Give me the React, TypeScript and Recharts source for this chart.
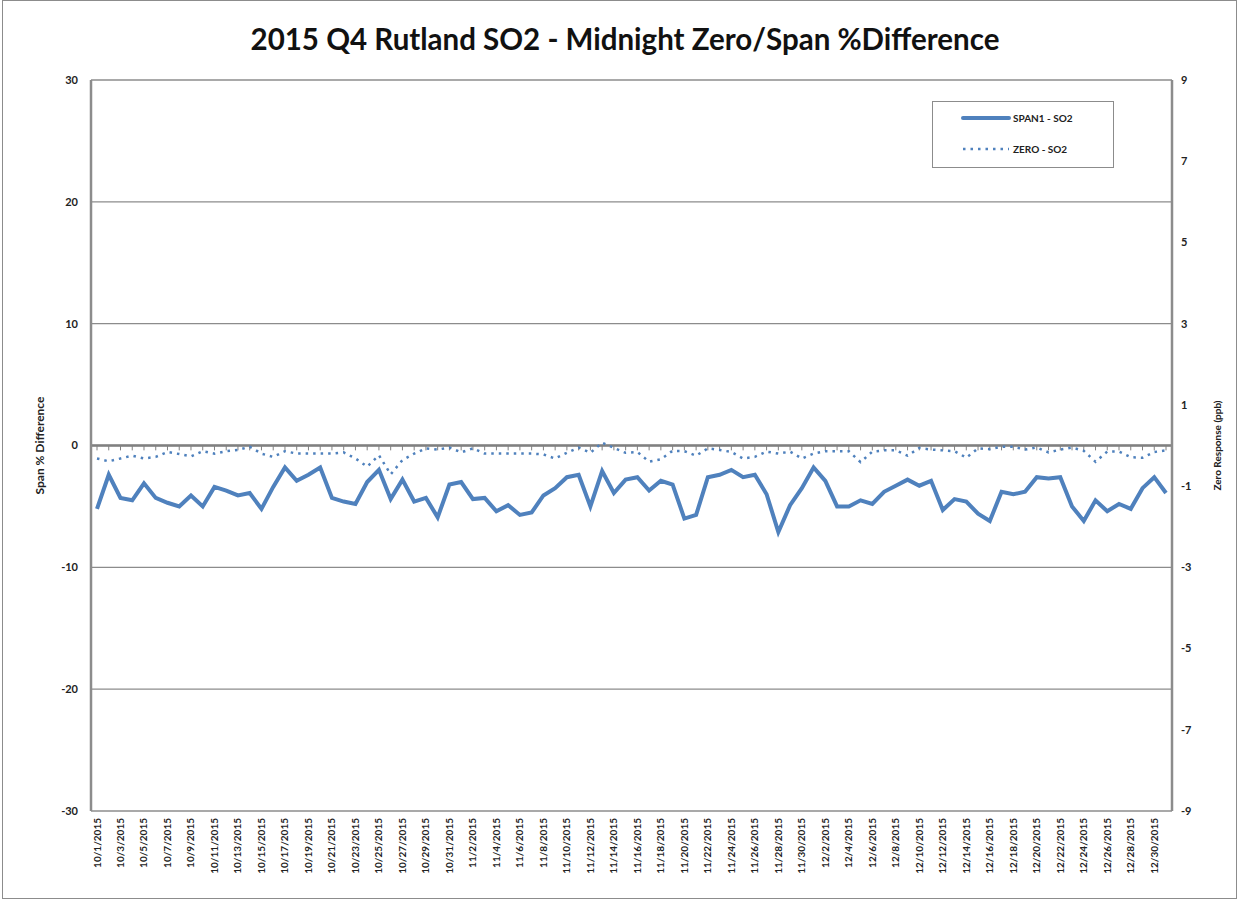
import {
  CartesianGrid,
  Line,
  LineChart,
  ReferenceLine,
  XAxis,
  YAxis,
} from 'recharts';

const days = [
  '10/1/2015', '10/2/2015', '10/3/2015', '10/4/2015', '10/5/2015', '10/6/2015', '10/7/2015', '10/8/2015',
  '10/9/2015', '10/10/2015', '10/11/2015', '10/12/2015', '10/13/2015', '10/14/2015', '10/15/2015', '10/16/2015',
  '10/17/2015', '10/18/2015', '10/19/2015', '10/20/2015', '10/21/2015', '10/22/2015', '10/23/2015', '10/24/2015',
  '10/25/2015', '10/26/2015', '10/27/2015', '10/28/2015', '10/29/2015', '10/30/2015', '10/31/2015',
  '11/1/2015', '11/2/2015', '11/3/2015', '11/4/2015', '11/5/2015', '11/6/2015', '11/7/2015', '11/8/2015',
  '11/9/2015', '11/10/2015', '11/11/2015', '11/12/2015', '11/13/2015', '11/14/2015', '11/15/2015', '11/16/2015',
  '11/17/2015', '11/18/2015', '11/19/2015', '11/20/2015', '11/21/2015', '11/22/2015', '11/23/2015', '11/24/2015',
  '11/25/2015', '11/26/2015', '11/27/2015', '11/28/2015', '11/29/2015', '11/30/2015',
  '12/1/2015', '12/2/2015', '12/3/2015', '12/4/2015', '12/5/2015', '12/6/2015', '12/7/2015', '12/8/2015',
  '12/9/2015', '12/10/2015', '12/11/2015', '12/12/2015', '12/13/2015', '12/14/2015', '12/15/2015', '12/16/2015',
  '12/17/2015', '12/18/2015', '12/19/2015', '12/20/2015', '12/21/2015', '12/22/2015', '12/23/2015', '12/24/2015',
  '12/25/2015', '12/26/2015', '12/27/2015', '12/28/2015', '12/29/2015', '12/30/2015', '12/31/2015',
];

// SPAN1 - SO2, % difference (left axis)
const span1 = [
  -5.2, -2.4, -4.3, -4.5, -3.1, -4.3, -4.7, -5.0, -4.1, -5.0,
  -3.4, -3.7, -4.1, -3.9, -5.2, -3.4, -1.8, -2.9, -2.4, -1.8,
  -4.3, -4.6, -4.8, -3.0, -2.0, -4.4, -2.8, -4.6, -4.3, -5.9,
  -3.2, -3.0, -4.4, -4.3, -5.4, -4.9, -5.7, -5.5, -4.1, -3.5,
  -2.6, -2.4, -5.0, -2.1, -3.9, -2.8, -2.6, -3.7, -2.9, -3.2,
  -6.0, -5.7, -2.6, -2.4, -2.0, -2.6, -2.4, -4.0, -7.1, -4.9,
  -3.5, -1.8, -2.9, -5.0, -5.0, -4.5, -4.8, -3.8, -3.3, -2.8,
  -3.3, -2.9, -5.3, -4.4, -4.6, -5.6, -6.2, -3.8, -4.0, -3.8,
  -2.6, -2.7, -2.6, -5.0, -6.2, -4.5, -5.4, -4.8, -5.2, -3.5,
  -2.6, -3.9,
];

// ZERO - SO2, ppb (right axis)
const zeroSo2 = [
  -0.32, -0.39, -0.32, -0.25, -0.32, -0.28, -0.16, -0.21, -0.27, -0.14,
  -0.2, -0.14, -0.11, -0.03, -0.2, -0.28, -0.14, -0.2, -0.2, -0.2,
  -0.2, -0.17, -0.32, -0.52, -0.24, -0.71, -0.36, -0.2, -0.07, -0.1,
  -0.05, -0.17, -0.07, -0.2, -0.2, -0.2, -0.2, -0.2, -0.22, -0.32,
  -0.18, -0.05, -0.18, 0.07, -0.06, -0.18, -0.16, -0.4, -0.34, -0.13,
  -0.14, -0.25, -0.07, -0.11, -0.16, -0.32, -0.28, -0.15, -0.2, -0.15,
  -0.32, -0.2, -0.14, -0.14, -0.14, -0.41, -0.15, -0.12, -0.12, -0.25,
  -0.06, -0.1, -0.12, -0.14, -0.3, -0.07, -0.09, -0.03, -0.03, -0.1,
  -0.05, -0.17, -0.1, -0.05, -0.13, -0.4, -0.15, -0.15, -0.29, -0.3,
  -0.16, -0.12,
];

const leftTicks = [-30, -20, -10, 0, 10, 20, 30];
const rightTicks = [-9, -7, -5, -3, -1, 1, 3, 5, 7, 9];

const data = days.map((day, i) => ({ day, span: span1[i], zero: zeroSo2[i] }));

const BLUE = '#4f81bd';
const GREY = '#8c8c8c';
const FONT = 'Lato, "Open Sans", sans-serif';

function DateTick({ x, y, payload }: any) {
  return (
    <g transform={`translate(${x},${y})`}>
      <text
        transform="rotate(-90)"
        x={-7}
        dy={3.5}
        textAnchor="end"
        fontFamily={FONT}
        fontWeight={700}
        fontSize={10}
        fill="#222"
      >
        {payload.value}
      </text>
    </g>
  );
}

function LegendBox() {
  return (
    <div
      style={{
        position: 'absolute',
        left: 932,
        top: 101,
        width: 182,
        height: 67,
        border: `1px solid ${GREY}`,
        boxSizing: 'border-box',
        background: '#fff',
        fontFamily: FONT,
        fontWeight: 700,
        fontSize: 10,
        color: '#222',
      }}
    >
      <div style={{ display: 'flex', alignItems: 'center', height: 30, marginTop: 1 }}>
        <svg width={80} height={10}>
          <line x1={30} y1={5} x2={76} y2={5} stroke={BLUE} strokeWidth={4} strokeLinecap="round" />
        </svg>
        <span>SPAN1 - SO2</span>
      </div>
      <div style={{ display: 'flex', alignItems: 'center', height: 32 }}>
        <svg width={80} height={10}>
          <line x1={30} y1={5} x2={76} y2={5} stroke={BLUE} strokeWidth={2.5} strokeDasharray="2.5 5" />
        </svg>
        <span>ZERO - SO2</span>
      </div>
    </div>
  );
}

export default function App() {
  return (
    <div style={{ position: 'absolute', left: 0, top: 0, width: 1239, height: 903, background: '#fff' }}>
      <div
        style={{
          position: 'absolute',
          left: 2,
          top: 0,
          width: 1233,
          height: 897,
          border: `1px solid ${GREY}`,
        }}
      />
      <div
        style={{
          position: 'absolute',
          left: 0,
          top: 19,
          width: 1250,
          textAlign: 'center',
          fontFamily: FONT,
          fontWeight: 700,
          fontSize: 29.5,
          lineHeight: '40px',
          color: '#111',
        }}
      >
        2015 Q4 Rutland SO2 - Midnight Zero/Span %Difference
      </div>
      <div style={{ position: 'absolute', left: 0, top: 0 }}>
        <LineChart width={1239} height={903} data={data} margin={{ top: 80, right: 0, bottom: 0, left: 0 }}>
          <CartesianGrid yAxisId="left" vertical={false} stroke={GREY} strokeWidth={1.3} />
          <XAxis
            dataKey="day"
            height={92}
            interval={1}
            padding={{ left: 6, right: 6 }}
            axisLine={false}
            tickLine={false}
            tickSize={0}
            tickMargin={0}
            tick={<DateTick />}
          />
          <YAxis
            yAxisId="left"
            width={91}
            domain={[-30, 30]}
            ticks={leftTicks}
            axisLine={{ stroke: GREY, strokeWidth: 2.5 }}
            tickLine={false}
            tickSize={3}
            tickMargin={10}
            tick={{ fontFamily: FONT, fontWeight: 700, fontSize: 11, fill: '#222' }}
            label={{
              value: 'Span % Difference',
              angle: -90,
              position: 'insideLeft',
              offset: 40,
              style: { fontFamily: FONT, fontWeight: 700, fontSize: 12, fill: '#222', textAnchor: 'middle' },
            }}
          />
          <YAxis
            yAxisId="right"
            orientation="right"
            width={67}
            domain={[-9, 9]}
            ticks={rightTicks}
            axisLine={{ stroke: GREY, strokeWidth: 2.5 }}
            tickLine={false}
            tickSize={3}
            tickMargin={6}
            tick={{ fontFamily: FONT, fontWeight: 700, fontSize: 11, fill: '#222' }}
            label={{
              value: 'Zero Response (ppb)',
              angle: -90,
              position: 'insideRight',
              offset: 22,
              style: { fontFamily: FONT, fontWeight: 700, fontSize: 10, fill: '#222', textAnchor: 'middle' },
            }}
          />
          <ReferenceLine yAxisId="left" y={0} stroke="#808080" strokeWidth={2.5} />
          {days.map((d) => (
            <ReferenceLine
              key={d}
              yAxisId="left"
              segment={[{ x: d, y: 0 }, { x: d, y: -0.4 }]}
              stroke="#808080"
              strokeWidth={1}
            />
          ))}
          <Line
            yAxisId="right"
            type="linear"
            dataKey="zero"
            name="ZERO - SO2"
            stroke={BLUE}
            strokeWidth={2.5}
            strokeDasharray="2.5 5"
            dot={false}
            activeDot={false}
            isAnimationActive={false}
          />
          <Line
            yAxisId="left"
            type="linear"
            dataKey="span"
            name="SPAN1 - SO2"
            stroke={BLUE}
            strokeWidth={4}
            dot={false}
            activeDot={false}
            isAnimationActive={false}
          />
        </LineChart>
      </div>
      <LegendBox />
    </div>
  );
}
